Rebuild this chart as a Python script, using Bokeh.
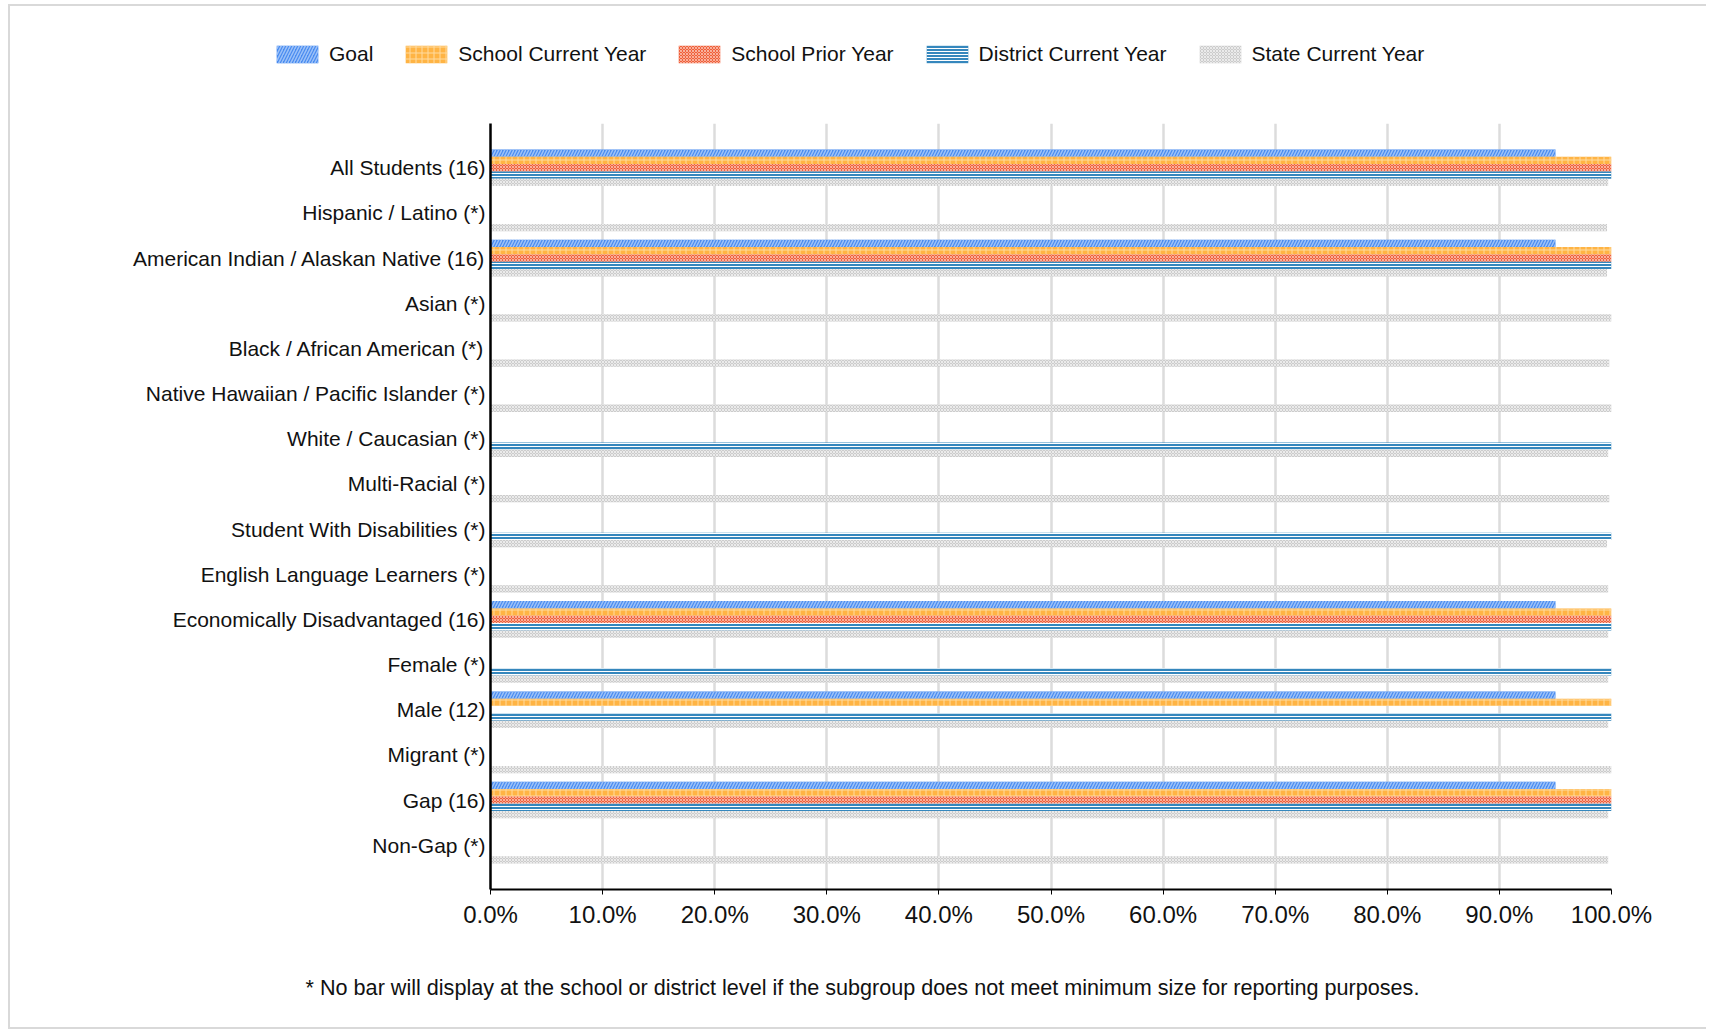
from bokeh.plotting import figure
from bokeh.layouts import column
from bokeh.models import (FactorRange, Range1d, FixedTicker, PrintfTickFormatter,
                          Legend, LegendItem, ColumnDataSource)
from bokeh.core.properties import value
from bokeh.transform import dodge
from bokeh.embed import file_html
from bokeh.resources import INLINE

nan = float("nan")

categories = [
    "All Students (16)", "Hispanic / Latino (*)", "American Indian / Alaskan Native (16)",
    "Asian (*)", "Black / African American (*)", "Native Hawaiian / Pacific Islander (*)",
    "White / Caucasian (*)", "Multi-Racial (*)", "Student With Disabilities (*)",
    "English Language Learners (*)", "Economically Disadvantaged (16)", "Female (*)",
    "Male (12)", "Migrant (*)", "Gap (16)", "Non-Gap (*)",
]
goal = [95, nan, 95, nan, nan, nan, nan, nan, nan, nan, 95, nan, 95, nan, 95, nan]
school_current = [100, nan, 100, nan, nan, nan, nan, nan, nan, nan, 100, nan, 100, nan, 100, nan]
school_prior = [100, nan, 100, nan, nan, nan, nan, nan, nan, nan, 100, nan, nan, nan, 100, nan]
district_current = [100, nan, 100, nan, nan, nan, 100, nan, 100, nan, 100, 100, 100, nan, 100, nan]
state_current = [99.7, 99.6, 99.6, 100, 99.8, 100, 99.7, 99.8, 99.6, 99.7, 99.7, 99.7, 99.7, 100, 99.7, 99.7]
x_ticks = [0, 10, 20, 30, 40, 50, 60, 70, 80, 90, 100]
footnote = "* No bar will display at the school or district level if the subgroup does not meet minimum size for reporting purposes."

series = [
    ("Goal", goal, dict(fill_color="#4a8cf0", hatch_pattern="/", hatch_color="#9cc2f8", hatch_scale=6, hatch_weight=1.5)),
    ("School Current Year", school_current, dict(fill_color="#ffb444", hatch_pattern="+", hatch_color="#ffdba0", hatch_scale=6, hatch_weight=1)),
    ("School Prior Year", school_prior, dict(fill_color="#f0603a", hatch_pattern="x", hatch_color="#ffffff", hatch_scale=3, hatch_weight=1, hatch_alpha=0.5)),
    ("District Current Year", district_current, dict(fill_color="#3587bd", hatch_pattern="-", hatch_color="#ffffff", hatch_scale=3, hatch_weight=1)),
    ("State Current Year", state_current, dict(fill_color="#cccccc", hatch_pattern="x", hatch_color="#ffffff", hatch_scale=3, hatch_weight=1, hatch_alpha=0.6)),
]

FONT = "Liberation Sans"
W = 1696
LEG_H = 90
MAIN_TOP = 27
MAIN_BOTTOM = 60
FOOT_H = 78


def blank_fig(height):
    f = figure(frame_width=W, frame_height=height, min_border=0,
               x_range=Range1d(0, W), y_range=Range1d(0, height),
               x_axis_type=None, y_axis_type=None,
               output_backend="svg", toolbar_location=None)
    f.outline_line_color = None
    f.grid.grid_line_color = None
    return f


# ---- legend strip (zero-width glyphs that only feed the legend) ----
leg = blank_fig(LEG_H)
stub = ColumnDataSource(dict(y=[-100], left=[0], right=[0]))
items = []
for name, vals, style in series:
    r = leg.hbar(y="y", left="left", right="right", height=1, source=stub, line_color=None, **style)
    items.append(LegendItem(label=name, renderers=[r]))
legend = Legend(items=items, orientation="horizontal", location=(261, 30),
                glyph_width=52, glyph_height=22, label_standoff=6, spacing=27,
                padding=0, margin=0, border_line_color=None, background_fill_alpha=0,
                label_text_font=FONT, label_text_font_size="21px", label_text_color="#111111",
                label_height=20)
leg.add_layout(legend, "center")

# ---- main chart ----
source = ColumnDataSource(dict(cat=categories, **{name: vals for name, vals, _ in series}))

p = figure(
    y_range=FactorRange(factors=list(reversed(categories)), range_padding=0.48, range_padding_units="absolute"),
    x_range=Range1d(0, 100),
    frame_width=1121, frame_height=766,
    min_border_left=480, min_border_right=95, min_border_top=MAIN_TOP, min_border_bottom=MAIN_BOTTOM,
    output_backend="svg", toolbar_location=None,
)
p.outline_line_color = None

bar_h = 0.162
offsets = [2 * bar_h, bar_h, 0, -bar_h, -2 * bar_h]
for (name, vals, style), off in zip(series, offsets):
    p.hbar(y=dodge("cat", off, range=p.y_range), left=0, right=name, height=bar_h,
           source=source, line_color=None, **style)

p.ygrid.grid_line_color = None
p.xgrid.grid_line_color = "#dcdcdc"
p.xgrid.grid_line_width = 2.5
p.xgrid.ticker = FixedTicker(ticks=x_ticks)

xa = p.xaxis[0]
xa.ticker = FixedTicker(ticks=x_ticks)
xa.formatter = PrintfTickFormatter(format="%.1f%%")
xa.axis_line_color = "#000000"
xa.axis_line_width = 2
xa.major_tick_line_color = "#000000"
xa.major_tick_out = 5
xa.major_tick_in = 0
xa.minor_tick_line_color = None
xa.major_label_standoff = 6
xa.major_label_text_font = FONT
xa.major_label_text_font_size = "24px"
xa.major_label_text_color = "#111111"

ya = p.yaxis[0]
ya.axis_line_color = "#000000"
ya.axis_line_width = 2.5
ya.major_tick_line_color = None
ya.minor_tick_line_color = None
ya.major_tick_out = 0
ya.major_tick_in = 0
ya.major_label_standoff = 5
ya.major_label_text_font = FONT
ya.major_label_text_font_size = "21px"
ya.major_label_text_color = "#111111"

# ---- footnote strip (own container so its frame is not aligned to the chart's) ----
foot = blank_fig(FOOT_H)
note_src = ColumnDataSource(dict(x=[852], y=[40], t=[footnote]))
foot.text(x="x", y="y", text="t", source=note_src, text_align="center", text_baseline="middle",
          text_font=value(FONT), text_font_size="21.6px", text_color="#111111")

layout = column(leg, p, column(foot), spacing=0)
layout.styles = {"margin": "4px 0 0 8px",
                 "border-left": "2px solid #d9d9d9", "border-top": "2px solid #d9d9d9",
                 "border-bottom": "2px solid #d9d9d9"}

open("out.html", "w").write(file_html(layout, INLINE))
